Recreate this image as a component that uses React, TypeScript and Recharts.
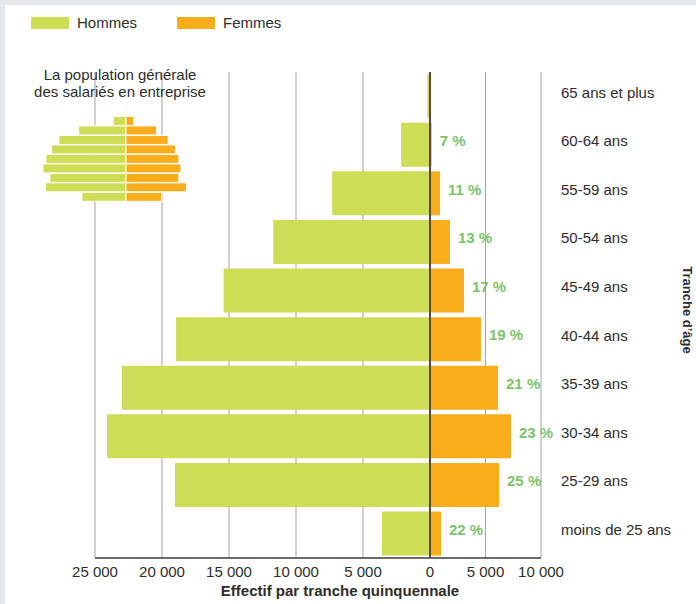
import React from 'react'
import { BarChart, Bar, XAxis, YAxis, CartesianGrid, ReferenceLine, LabelList, Label } from 'recharts'

const ages = [
  '65 ans et plus', '60-64 ans', '55-59 ans', '50-54 ans', '45-49 ans',
  '40-44 ans', '35-39 ans', '30-34 ans', '25-29 ans', 'moins de 25 ans',
]
const hommes = [200, 2160, 7300, 11700, 15400, 18950, 23000, 24100, 19030, 3580]
const femmes = [100, 150, 900, 1800, 3060, 4590, 6130, 7300, 6220, 990]
const partFemmes = [null, 7, 11, 13, 17, 19, 21, 23, 25, 22]

const ticksHommes = [0, 5000, 10000, 15000, 20000, 25000]
const ticksFemmes = [5000, 10000]

// petite pyramide : population générale des salariés en entreprise
const miniHommes = [1, 12.8, 47.4, 67.1, 74.4, 80.1, 83.1, 76.1, 80.8, 44.1]
const miniFemmes = [0.8, 7.9, 30.6, 42.2, 49.6, 52.9, 54.9, 52.9, 60.6, 35.9]

const VERT = '#cedd56'
const ORANGE = '#f9ad1b'
const VERT_TEXTE = '#7cc36b'
const TEXTE = '#2d2d2d'
const GRILLE = '#a3a3a3'

const data = ages.map((age, i) => ({ age, hommes: hommes[i], femmes: femmes[i], part: partFemmes[i] }))
const miniData = ages.map((age, i) => ({ age, hommes: -miniHommes[i], femmes: miniFemmes[i] }))

const fmt = (v: number) => String(v).replace(/\B(?=(\d{3})+(?!\d))/g, ' ')

const CatTick = (props: any) => {
  const { x, y, payload } = props
  return (
    <text x={x} y={y - 4} dy="0.35em" textAnchor="start" fill={TEXTE} fontSize={15}>
      {payload.value}
    </text>
  )
}

const renderPart = (props: any) => {
  const { x, y, width, height, value } = props
  if (value == null) return null
  return (
    <text x={x + width + 8} y={y + height / 2 - 4} dy="0.35em" fill={VERT_TEXTE} fontSize={15} fontWeight="bold">
      {value} %
    </text>
  )
}

const renderTitreY = (props: any) => {
  const vb = props.viewBox
  const cx = vb.x + vb.width - 8
  const cy = vb.y + vb.height / 2 - 5
  return (
    <text x={cx} y={cy} dy="0.35em" textAnchor="middle" transform={`rotate(90 ${cx} ${cy})`}
      fill={TEXTE} fontSize={13} fontWeight="bold">
      Tranche d’âge
    </text>
  )
}

const axisTick = { fill: TEXTE, fontSize: 15 }
const axisLine = { stroke: '#3a3a3a', strokeWidth: 1.5 }

export default function App() {
  return (
    <div style={{ position: 'absolute', left: 0, top: 0, width: 696, height: 604, background: '#e6e7e9', overflow: 'hidden', fontFamily: '"Liberation Sans", Arial, sans-serif', color: TEXTE }}>
      <div style={{ position: 'absolute', left: 5, top: 5, right: 0, bottom: 0, background: '#fff' }} />

      {/* légende */}
      <div style={{ position: 'absolute', left: 31, top: 14, height: 18, display: 'flex', alignItems: 'center', fontSize: 15, lineHeight: '18px' }}>
        <span style={{ width: 38, height: 12, background: VERT }} />
        <span style={{ marginLeft: 8 }}>Hommes</span>
        <span style={{ width: 38, height: 12, background: ORANGE, marginLeft: 40 }} />
        <span style={{ marginLeft: 8 }}>Femmes</span>
      </div>

      {/* hommes */}
      <div style={{ position: 'absolute', left: 0, top: 0 }}>
        <BarChart width={440} height={604} layout="vertical" data={data}
          margin={{ top: 72, right: 10, bottom: 16, left: 95 }} barCategoryGap={2.15}>
          <CartesianGrid horizontal={false} stroke={GRILLE} />
          <XAxis type="number" domain={[0, 25000]} ticks={ticksHommes} reversed interval={0}
            tickFormatter={fmt} tickLine={false} axisLine={axisLine} tick={axisTick} height={30} />
          <YAxis type="category" dataKey="age" hide width={0} />
          <Bar dataKey="hommes" fill={VERT} isAnimationActive={false} />
        </BarChart>
      </div>

      {/* femmes */}
      <div style={{ position: 'absolute', left: 420, top: 0 }}>
        <BarChart width={276} height={604} layout="vertical" data={data}
          margin={{ top: 72, right: 0, bottom: 16, left: 10 }} barCategoryGap={2.15}>
          <CartesianGrid horizontal={false} stroke={GRILLE} />
          <XAxis type="number" domain={[0, 10000]} ticks={ticksFemmes} interval={0}
            tickFormatter={fmt} tickLine={false} axisLine={axisLine} tick={axisTick} height={30} />
          <YAxis type="category" dataKey="age" orientation="right" width={155} interval={0}
            axisLine={false} tickLine={false} tickSize={0} tickMargin={20} tick={CatTick}>
            <Label content={renderTitreY} />
          </YAxis>
          <Bar dataKey="femmes" fill={ORANGE} isAnimationActive={false}>
            <LabelList dataKey="part" content={renderPart} />
          </Bar>
          <ReferenceLine x={0} stroke="#574c3f" strokeWidth={2} />
        </BarChart>
      </div>

      {/* encart */}
      <div style={{ position: 'absolute', left: 20, top: 67, width: 200, textAlign: 'center', fontSize: 15, lineHeight: '16.5px' }}>
        La population générale<br />des salariés en entreprise
      </div>
      <div style={{ position: 'absolute', left: 35.6, top: 107.4 }}>
        <BarChart width={180} height={94.8} layout="vertical" data={miniData} stackOffset="sign"
          margin={{ top: 0, right: 0, bottom: 0, left: 0 }} barCategoryGap={0}>
          <XAxis type="number" domain={[-90, 90]} hide />
          <YAxis type="category" dataKey="age" hide />
          <Bar dataKey="hommes" stackId="p" fill={VERT} stroke="#fff" strokeWidth={1} isAnimationActive={false} />
          <Bar dataKey="femmes" stackId="p" fill={ORANGE} stroke="#fff" strokeWidth={1} isAnimationActive={false} />
        </BarChart>
      </div>

      <div style={{ position: 'absolute', left: 190, width: 300, top: 581.5, textAlign: 'center', whiteSpace: 'nowrap', fontSize: 15, lineHeight: '17px', fontWeight: 'bold' }}>
        Effectif par tranche quinquennale
      </div>
    </div>
  )
}
